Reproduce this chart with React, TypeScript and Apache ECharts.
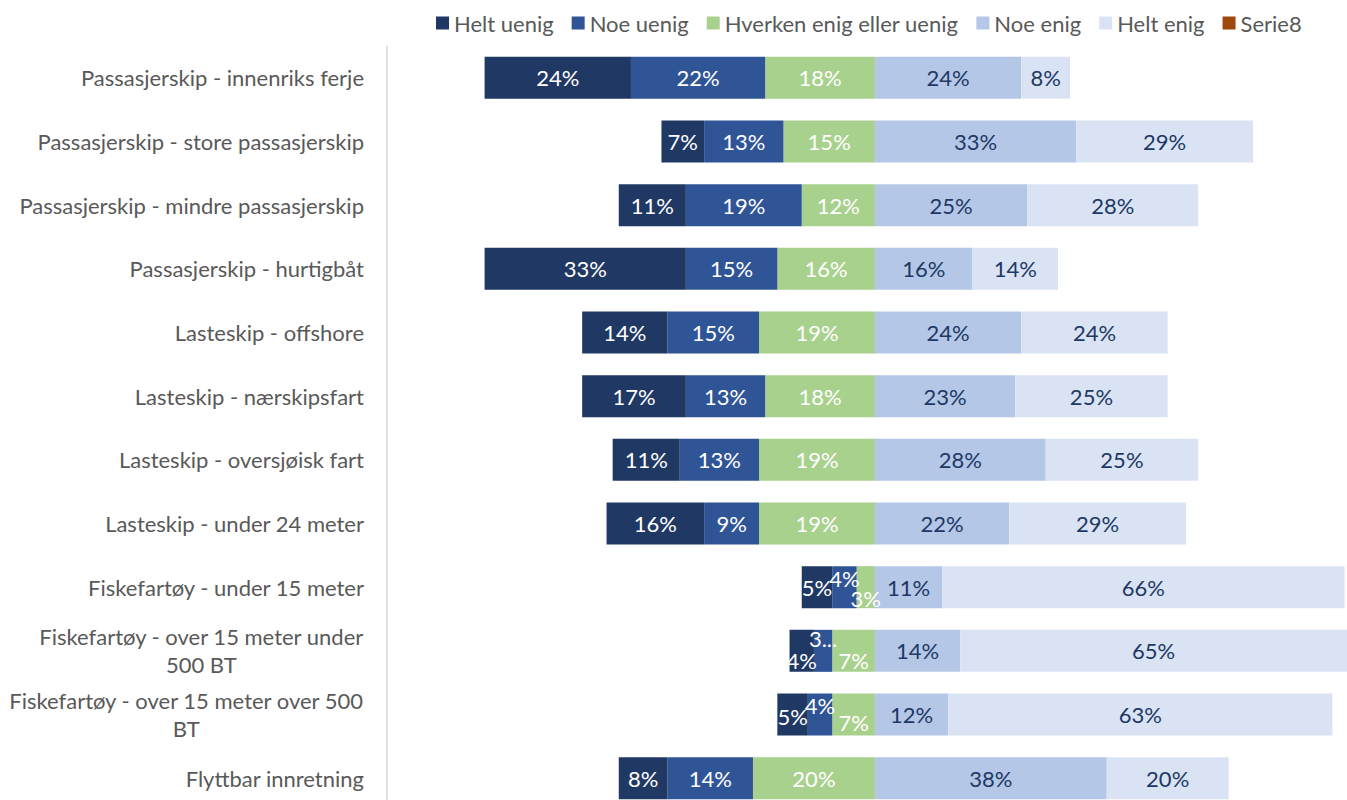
import React, { useEffect, useRef } from "react";
import * as echarts from "echarts";

const categories = [
  "Passasjerskip - innenriks ferje",
  "Passasjerskip - store passasjerskip",
  "Passasjerskip - mindre passasjerskip",
  "Passasjerskip - hurtigbåt",
  "Lasteskip - offshore",
  "Lasteskip - nærskipsfart",
  "Lasteskip - oversjøisk fart",
  "Lasteskip - under 24 meter",
  "Fiskefartøy - under 15 meter",
  "Fiskefartøy - over 15 meter under\n500 BT",
  "Fiskefartøy - over 15 meter over 500\nBT",
  "Flyttbar innretning",
];

const heltUenig = [24, 7, 11, 33, 14, 17, 11, 16, 5, 4, 5, 8];
const noeUenig = [22, 13, 19, 15, 15, 13, 13, 9, 4, 3, 4, 14];
const hverken = [18, 15, 12, 16, 19, 18, 19, 19, 3, 7, 7, 20];
const noeEnig = [24, 33, 25, 16, 24, 23, 28, 22, 11, 14, 12, 38];
const heltEnig = [8, 29, 28, 14, 24, 25, 25, 29, 66, 65, 63, 20];

const seriesNames = [
  "Helt uenig",
  "Noe uenig",
  "Hverken enig eller uenig",
  "Noe enig",
  "Helt enig",
  "Serie8",
];

// label nudges for narrow segments (series name -> row index -> [dx, dy])
const labelNudges: Record<string, Record<number, number[]>> = {
  "Helt uenig": { 9: [0, 10], 10: [0, 2] },
  "Noe uenig": { 8: [0, -9], 9: [0, -12], 10: [0, -9] },
  "Hverken enig eller uenig": { 8: [0, 11], 9: [0, 10], 10: [0, 8] },
};
const labelTextOverrides: Record<string, Record<number, string>> = {
  "Noe uenig": { 9: "3..." },
};

const FONT = "Lato, 'Open Sans', sans-serif";
const FS = 22;

export default function App() {
  const ref = useRef<HTMLDivElement>(null);

  useEffect(() => {
    if (!ref.current) return;
    const chart = echarts.init(ref.current, null, { renderer: "svg" });

    const mk = (
      name: string,
      values: number[],
      sign: number,
      color: string,
      labelColor: string
    ) => ({
      name,
      type: "bar",
      stack: "total",
      barWidth: 42,
      itemStyle: { color },
      label: {
        show: true,
        position: "inside",
        color: labelColor,
        fontFamily: FONT,
        fontSize: FS,
        formatter: (p: any) => Math.round(Math.abs(p.value)) + "%",
      },
      data: values.map((v, i) => {
        const item: any = { value: sign * v };
        const nudge = labelNudges[name]?.[i];
        const txt = labelTextOverrides[name]?.[i];
        if (nudge || txt) {
          item.label = {};
          if (nudge) item.label.offset = nudge;
          if (txt) item.label.formatter = txt;
        }
        return item;
      }),
    });

    const option: any = {
      animation: false,
      textStyle: { fontFamily: FONT },
      legend: {
        data: seriesNames,
        left: 431,
        top: 7,
        itemWidth: 13,
        itemHeight: 13,
        itemGap: 18,
        icon: "rect",
        textStyle: { fontSize: FS, color: "#595959", fontFamily: FONT },
      },
      grid: { left: 387, right: 0, top: 46, bottom: 10 },
      xAxis: {
        type: "value",
        min: -80,
        max: 77.4,
        show: false,
      },
      yAxis: {
        type: "category",
        data: categories,
        inverse: true,
        axisLine: { show: true, onZero: false, lineStyle: { color: "#D9D9D9", width: 1.5 } },
        axisTick: { show: false },
        axisLabel: {
          margin: 23,
          fontSize: FS,
          color: "#595959",
          fontFamily: FONT,
          lineHeight: 28,
          formatter: (v: string) =>
            v.includes("\n")
              ? v
                  .split("\n")
                  .map((l) => "{c|" + l + "}")
                  .join("\n")
              : v,
          rich: {
            c: {
              align: "center",
              fontSize: FS,
              color: "#595959",
              fontFamily: FONT,
              lineHeight: 28,
            },
          },
        },
        splitLine: { show: false },
      },
      series: [
        mk("Hverken enig eller uenig", hverken, -1, "#A9D18E", "#FFFFFF"),
        mk("Noe uenig", noeUenig, -1, "#2F5597", "#FFFFFF"),
        mk("Helt uenig", heltUenig, -1, "#203864", "#FFFFFF"),
        mk("Noe enig", noeEnig, 1, "#B4C7E7", "#203864"),
        mk("Helt enig", heltEnig, 1, "#DAE3F3", "#203864"),
        { name: "Serie8", type: "bar", stack: "total", itemStyle: { color: "#9E480E" }, data: [] },
      ],
    };

    chart.setOption(option);
    return () => chart.dispose();
  }, []);

  return (
    <div
      ref={ref}
      style={{ position: "fixed", left: 0, top: 0, width: 1347, height: 820, background: "#fff" }}
    />
  );
}
